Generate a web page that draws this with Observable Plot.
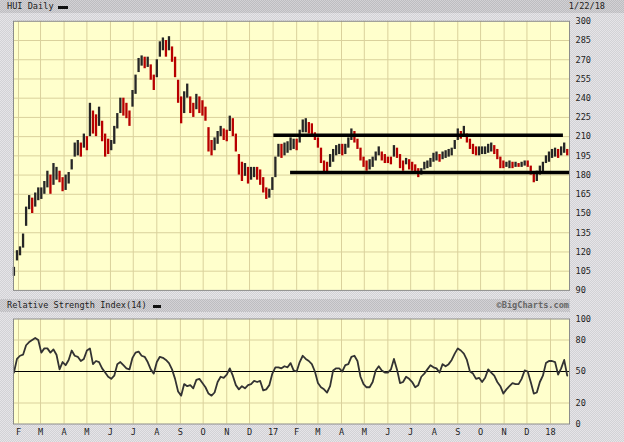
<!DOCTYPE html>
<html><head><meta charset="utf-8">
<script src="https://cdn.jsdelivr.net/npm/d3@7"></script>
<script src="https://cdn.jsdelivr.net/npm/@observablehq/plot@0.6"></script>
<style>
html,body{margin:0;padding:0;background:#fff;}
#chart{position:relative;width:624px;height:442px;overflow:hidden;font-family:"DejaVu Sans Mono",monospace;font-size:8.6px;color:#222;
 background:repeating-conic-gradient(#d2d2d5 0 25%, #e6e4e8 0 50%) 0 0/2px 2px;}
.band{position:absolute;left:0;height:13px;background:repeating-conic-gradient(#bdbdc0 0 25%, #d3d1d5 0 50%) 0 0/2px 2px;}
.t{position:absolute;line-height:13px;white-space:pre;}
.dash{position:absolute;background:#111;height:3px;}
svg.p{position:absolute;left:0;}
</style></head>
<body>
<div id="chart">
  <div class="band" style="top:0;width:624px;"></div>
  <div class="t" style="left:7px;top:0;">HUI Daily</div>
  <div class="dash" style="left:58px;top:6px;width:10px;"></div>
  <div class="t" style="right:19px;top:0;">1/22/18</div>
  <div class="band" style="top:299px;width:570px;"></div>
  <div class="t" style="left:7px;top:299px;">Relative Strength Index(14)</div>
  <div class="dash" style="left:153px;top:305px;width:8px;"></div>
  <div class="t" style="right:55px;top:299px;font-weight:bold;color:#666;">©BigCharts.com</div>
</div>
<script>
// ---- data (one sample every 4 calendar days from 2016-01-26) ----
const sampleStart = "2016-01-26";
const sampleStepDays = 4;
const priceHigh = [108,121,124,134,155,164,162,166,170,170,
175,183,180,189,186,183,178,180,182,192,
205,207,205,212,210,236,230,227,233,222,
212,208,207,218,228,240,240,236,230,246,
258,271,273,272,272,266,258,270,284,287,
285,288,280,272,254,241,245,251,241,236,
243,241,238,233,217,207,209,214,218,216,
215,226,224,212,196,190,189,186,186,186,
186,184,178,170,169,178,194,204,204,205,
206,209,208,208,215,223,224,221,220,213,
209,201,191,190,196,200,203,204,204,204,
209,216,214,208,201,194,191,192,194,198,
202,198,196,194,194,203,201,196,191,193,
192,190,188,185,185,190,191,193,197,198,
196,198,199,200,201,207,216,214,218,212,
208,204,202,202,202,202,204,205,203,200,
194,191,190,191,190,190,189,190,191,191,
187,182,183,187,190,195,198,200,201,200,
202,205,200];
const priceLow = [101,113,117,123,140,153,150,155,160,161,
165,170,165,172,176,174,167,168,173,184,
194,195,194,201,199,210,212,210,218,206,
194,196,199,204,216,228,226,224,218,233,
243,260,265,263,264,254,246,256,272,277,
272,277,268,256,236,220,228,240,228,225,
231,228,226,222,198,195,199,204,210,207,
206,214,210,198,180,175,179,173,176,178,
176,172,166,161,162,168,178,194,193,195,
197,199,200,199,205,213,213,212,211,207,
201,189,182,182,186,190,195,196,195,196,
201,207,205,200,191,186,183,184,186,191,
195,191,189,189,188,194,193,185,183,188,
184,183,182,178,180,184,185,186,190,191,
190,192,193,194,195,200,207,208,211,205,
200,196,195,195,196,196,197,198,196,192,
185,185,186,185,185,186,186,186,187,186,
180,174,175,180,182,189,190,193,194,193,
195,197,195];
const rsiValues = [49,62,65,66,75,78,80,82,80,68,
72,72,68,71,66,52,59,56,61,70,
65,64,60,62,70,72,57,60,59,53,
49,45,43,46,57,59,56,53,52,63,
68,69,65,64,59,52,48,59,64,63,
61,58,52,43,31,27,38,36,37,34,
42,43,39,35,29,27,30,40,45,44,
47,53,46,37,33,36,34,37,38,41,
40,41,32,33,37,48,54,54,53,55,
54,58,51,50,59,65,62,60,57,50,
39,35,33,30,36,51,53,53,50,56,
57,64,65,60,45,38,35,35,40,51,
55,51,49,49,52,62,52,39,40,45,
43,40,35,37,45,48,52,56,54,53,
49,57,55,57,61,67,72,70,67,61,
50,48,43,44,40,44,52,49,46,40,
36,29,33,36,39,38,38,43,51,50,
40,29,30,40,46,58,60,60,59,47,
53,61,46];
const levelValues = [211, 182];
const levelStart = ["2017-01-02", "2017-01-24"];
const levelEnd = ["2018-01-18", "2018-01-26"];
const priceTicks = [90,105,120,135,150,165,180,195,210,225,240,255,270,285,300];
const rsiTicks = [0,20,50,80,100];
const monthTickLabels = ["F","M","A","M","J","J","A","S","O","N","D","17","F","M","A","M","J","J","A","S","O","N","D","18"];
const firstTickMonth = "2016-02-01";

// ---- build ----
const DAY = 864e5;
const t0 = new Date(sampleStart + "T00:00:00Z").getTime();
const xDomain = [new Date(Date.UTC(2016,0,25,10)), new Date(Date.UTC(2018,0,26))];
const tm0 = new Date(firstTickMonth + "T00:00:00Z");
const monthTicks = monthTickLabels.map((_, i) => new Date(Date.UTC(tm0.getUTCFullYear(), tm0.getUTCMonth() + i, 1)));
const labelMap = new Map(monthTicks.map((d, i) => [+d, monthTickLabels[i]]));

const bars = priceHigh.map((h, i) => {
  const mid = (h + priceLow[i]) / 2;
  const prev = i ? (priceHigh[i-1] + priceLow[i-1]) / 2 : mid - 1;
  return {date: new Date(t0 + i * sampleStepDays * DAY), hi: h, lo: priceLow[i], up: mid >= prev};
});
const rsi = rsiValues.map((v, i) => ({date: new Date(t0 + i * sampleStepDays * DAY), v}));
const levels = levelValues.map((v, i) => ({y: v, x1: new Date(levelStart[i] + "T00:00:00Z"), x2: new Date(levelEnd[i] + "T00:00:00Z")}));

const gridColor = "#dad19c";
const panelFill = "#ffffcc";
const style = {background: "transparent", fontFamily: "'DejaVu Sans Mono', monospace", fontSize: "8.6px", color: "#222", overflow: "visible"};

const main = Plot.plot({
  width: 624, height: 295,
  marginLeft: 13, marginRight: 55, marginTop: 20.8, marginBottom: 5.1,
  style,
  x: {type: "utc", domain: xDomain, axis: null, label: null},
  y: {domain: [90, 300], axis: "right", ticks: priceTicks, tickSize: 0, tickPadding: 6, label: null, tickFormat: d => String(d)},
  marks: [
    Plot.frame({fill: panelFill}),
    Plot.ruleX(monthTicks, {stroke: gridColor, strokeWidth: 1}),
    Plot.ruleY(priceTicks.slice(1, -1), {stroke: gridColor, strokeWidth: 1}),
    Plot.ruleX(bars, {x: "date", y1: "lo", y2: "hi", stroke: d => d.up ? "#262626" : "#b80000", strokeWidth: 2.3}),
    Plot.ruleY(levels, {y: "y", x1: "x1", x2: "x2", stroke: "#000", strokeWidth: 3.5}),
    Plot.frame({stroke: "#8c8c8c"})
  ]
});
main.classList.add("p");
main.style.top = "0px";

const lower = Plot.plot({
  width: 624, height: 147,
  marginLeft: 13, marginRight: 55, marginTop: 23.5, marginBottom: 18.5,
  style,
  x: {type: "utc", domain: xDomain, ticks: monthTicks, tickFormat: d => labelMap.get(+d), tickSize: 0, tickPadding: 4.5, label: null},
  y: {domain: [0, 100], axis: "right", ticks: rsiTicks, tickSize: 0, tickPadding: 6, label: null, tickFormat: d => String(d)},
  marks: [
    Plot.frame({fill: panelFill}),
    Plot.ruleX(monthTicks, {stroke: gridColor, strokeWidth: 1}),
    Plot.ruleY([20, 80], {stroke: gridColor, strokeWidth: 1}),
    Plot.ruleY([50], {stroke: "#000", strokeWidth: 1}),
    Plot.lineY(rsi, {x: "date", y: "v", stroke: "#333", strokeWidth: 1.8}),
    Plot.frame({stroke: "#8c8c8c"})
  ]
});
lower.classList.add("p");
lower.style.top = "295px";

const chart = document.getElementById("chart");
chart.appendChild(main);
chart.appendChild(lower);
</script>
</body></html>
